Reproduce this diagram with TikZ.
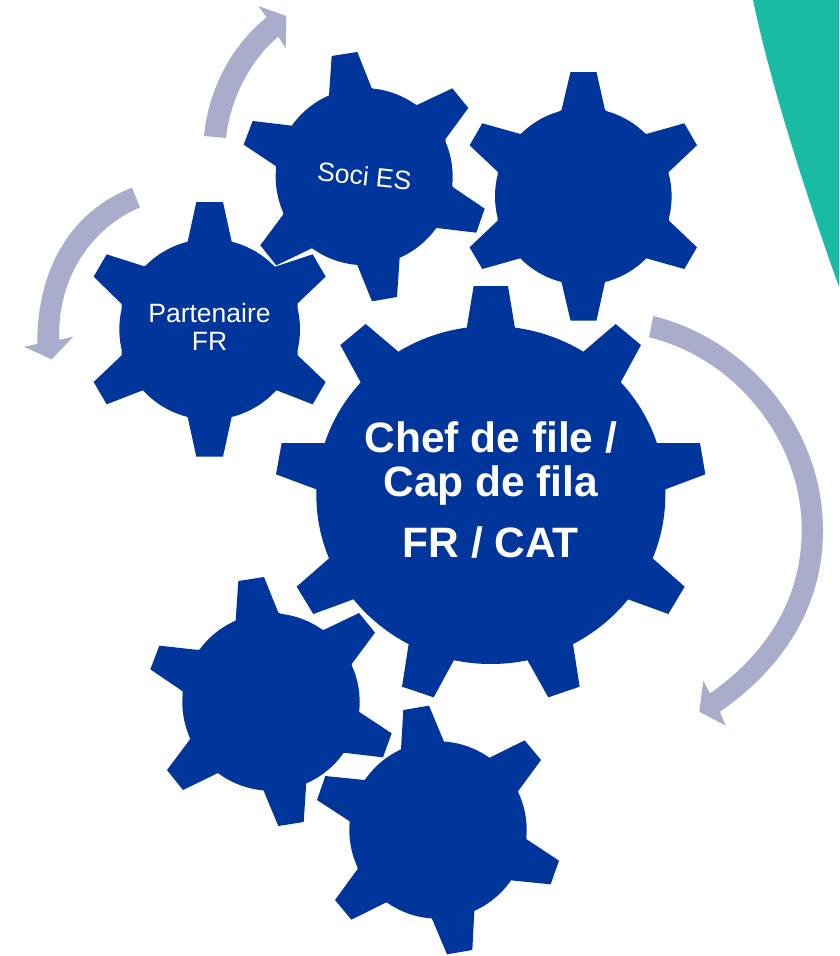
\documentclass[tikz,border=0pt]{standalone}
\usepackage{fontspec}
\setmainfont{Liberation Sans}
\definecolor{gearblue}{HTML}{00359C}
\definecolor{arrowgrey}{HTML}{A9ADCB}
\definecolor{tealshape}{HTML}{19BBA3}
\tikzset{
  gearfill/.style={fill=gearblue,draw=none},
  arrowfill/.style={fill=arrowgrey,draw=none},
  smalllabel/.style={text=white,inner sep=0pt,align=center,font=\fontsize{26.5}{28}\selectfont},
  biglabel/.style={text=white,inner sep=0pt,align=center,font=\fontsize{42.5}{44}\selectfont\bfseries}
}
\begin{document}
\begin{tikzpicture}[x=1pt,y=-1pt]
\useasboundingbox (0,0) rectangle (839,956);
% teal shape
\fill[tealshape] (753,0) .. controls (768,72) and (798,172) .. (839,287) -- (839,0) -- cycle;

% top arrow and left arrow (zoom units, origin 0,0)
\begin{scope}[scale=1/3]
\fill[arrowfill] (612,408) .. controls (625,270) and (695,135) .. (800,52)
  -- (775,18) -- (859,48) -- (857,145) -- (835,110)
  .. controls (750,180) and (690,300) .. (678,414) -- cycle;
\fill[arrowfill] (396,563) .. controls (220,630) and (110,800) .. (112,1032)
  -- (72,1040) -- (155,1078) -- (220,1010) -- (178,1020)
  .. controls (170,830) and (280,680) .. (420,622) -- cycle;
% Soci gear
\fill[gearfill] (987,287)--(995,168)--(1072,156)--(1115,264)
  --(1251,315)--(1357,265)--(1405,324)--(1336,418)
  --(1358,561)--(1454,626)--(1429,698)--(1310,684)
  --(1199,773)--(1191,891)--(1116,904)--(1072,795)
  --(935,745)--(829,796)--(781,736)--(850,643)
  --(827,498)--(731,434)--(758,363)--(876,377)--cycle
  (1092.5,530) circle (265.5);
% Partenaire gear
\fill[gearfill] (563,725)--(589,606)--(669,606)--(695,725)
  --(826,800)--(938,763)--(977,830)--(893,910)
  --(893,1066)--(977,1146)--(938,1213)--(830,1171)
  --(695,1251)--(669,1370)--(589,1370)--(563,1251)
  --(428,1171)--(320,1213)--(281,1146)--(365,1066)
  --(365,912)--(281,830)--(320,763)--(433,799)--cycle
  (629,988) circle (271);
\end{scope}

% top-right gear
\fill[gearfill] (561.5,110)--(570.5,72)--(596.5,72)--(605,110)
  --(646.3,134)--(684.3,123.3)--(697,145.3)--(668.7,172)
  --(669,220.7)--(697,247.3)--(684.3,269)--(646.3,258.3)
  --(605,282)--(596.5,320.5)--(570.5,320.5)--(561.5,282)
  --(520.3,258.3)--(482.3,269)--(469.6,247.3)--(497.6,220.7)
  --(497.9,172)--(469.6,145.3)--(482.3,123.3)--(520.3,134)--cycle
  (583.3,196.4) circle (88.3);

% big gear
\begin{scope}[shift={(270,280)},scale=1/3]
\fill[gearfill] (590,145)--(611,18)--(714,18)--(735,145)
  --(940,215)--(1037,132)--(1113,195)--(1052,307)
  --(1160,489)--(1290,489)--(1306,583)--(1186,628)
  --(1148,835)--(1244,920)--(1195,1002)--(1074,958)
  --(909,1092)--(929,1220)--(835,1252)--(772,1140)
  --(552,1140)--(491,1252)--(396,1220)--(416,1092)
  --(250,958)--(130,1002)--(80,920)--(177,835)
  --(139,628)--(18,583)--(35,489)--(165,489)
  --(272,307)--(211,195)--(287,132)--(385,215)--cycle
  (662.5,645) ellipse [x radius=523.5,y radius=507];
\end{scope}

% lower gears
\begin{scope}[shift={(140,570)},scale=1/3]
\fill[gearfill] (287,152)--(295,33)--(372,21)--(415,128)
  --(551,180)--(657,129)--(705,188)--(635,282)
  --(658,426)--(755,490)--(729,562)--(610,548)
  --(499,637)--(491,756)--(415,768)--(370,660)
  --(234,609)--(129,660)--(81,600)--(150,508)
  --(127,363)--(31,298)--(58,227)--(176,240)--cycle
  (393,396) circle (266);
\fill[gearfill] (783,538)--(790,420)--(867,407)--(912,515)
  --(1049,563)--(1154,511)--(1203,570)--(1134,664)
  --(1160,808)--(1257,872)--(1232,943)--(1113,931)
  --(1003,1022)--(997,1140)--(921,1153)--(876,1046)
  --(739,997)--(634,1049)--(585,990)--(653,897)
  --(628,753)--(531,690)--(556,618)--(674,630)--cycle
  (894,780) circle (266);
\end{scope}

% big arrow
\fill[arrowfill] (653.3,316) .. controls (750,340) and (823,430) .. (823,530)
  .. controls (823,610) and (780,670) .. (720,711.7)
  -- (725.7,725.7) -- (699.3,711.7) -- (703.3,680.7) -- (710,693.3)
  .. controls (765,655) and (801.7,600) .. (801.7,530)
  .. controls (801.7,440) and (735,358) .. (649,337.3) -- cycle;

% labels
\node[biglabel] (chef) at (490.8,490) {Chef de file /\\Cap de fila\\[17pt]FR / CAT};
\node[smalllabel] (partenaire) at (209.5,327) {Partenaire\\FR};
\node[smalllabel,rotate=-6] (soci) at (364.5,176) {Soci ES};
\end{tikzpicture}
\end{document}
